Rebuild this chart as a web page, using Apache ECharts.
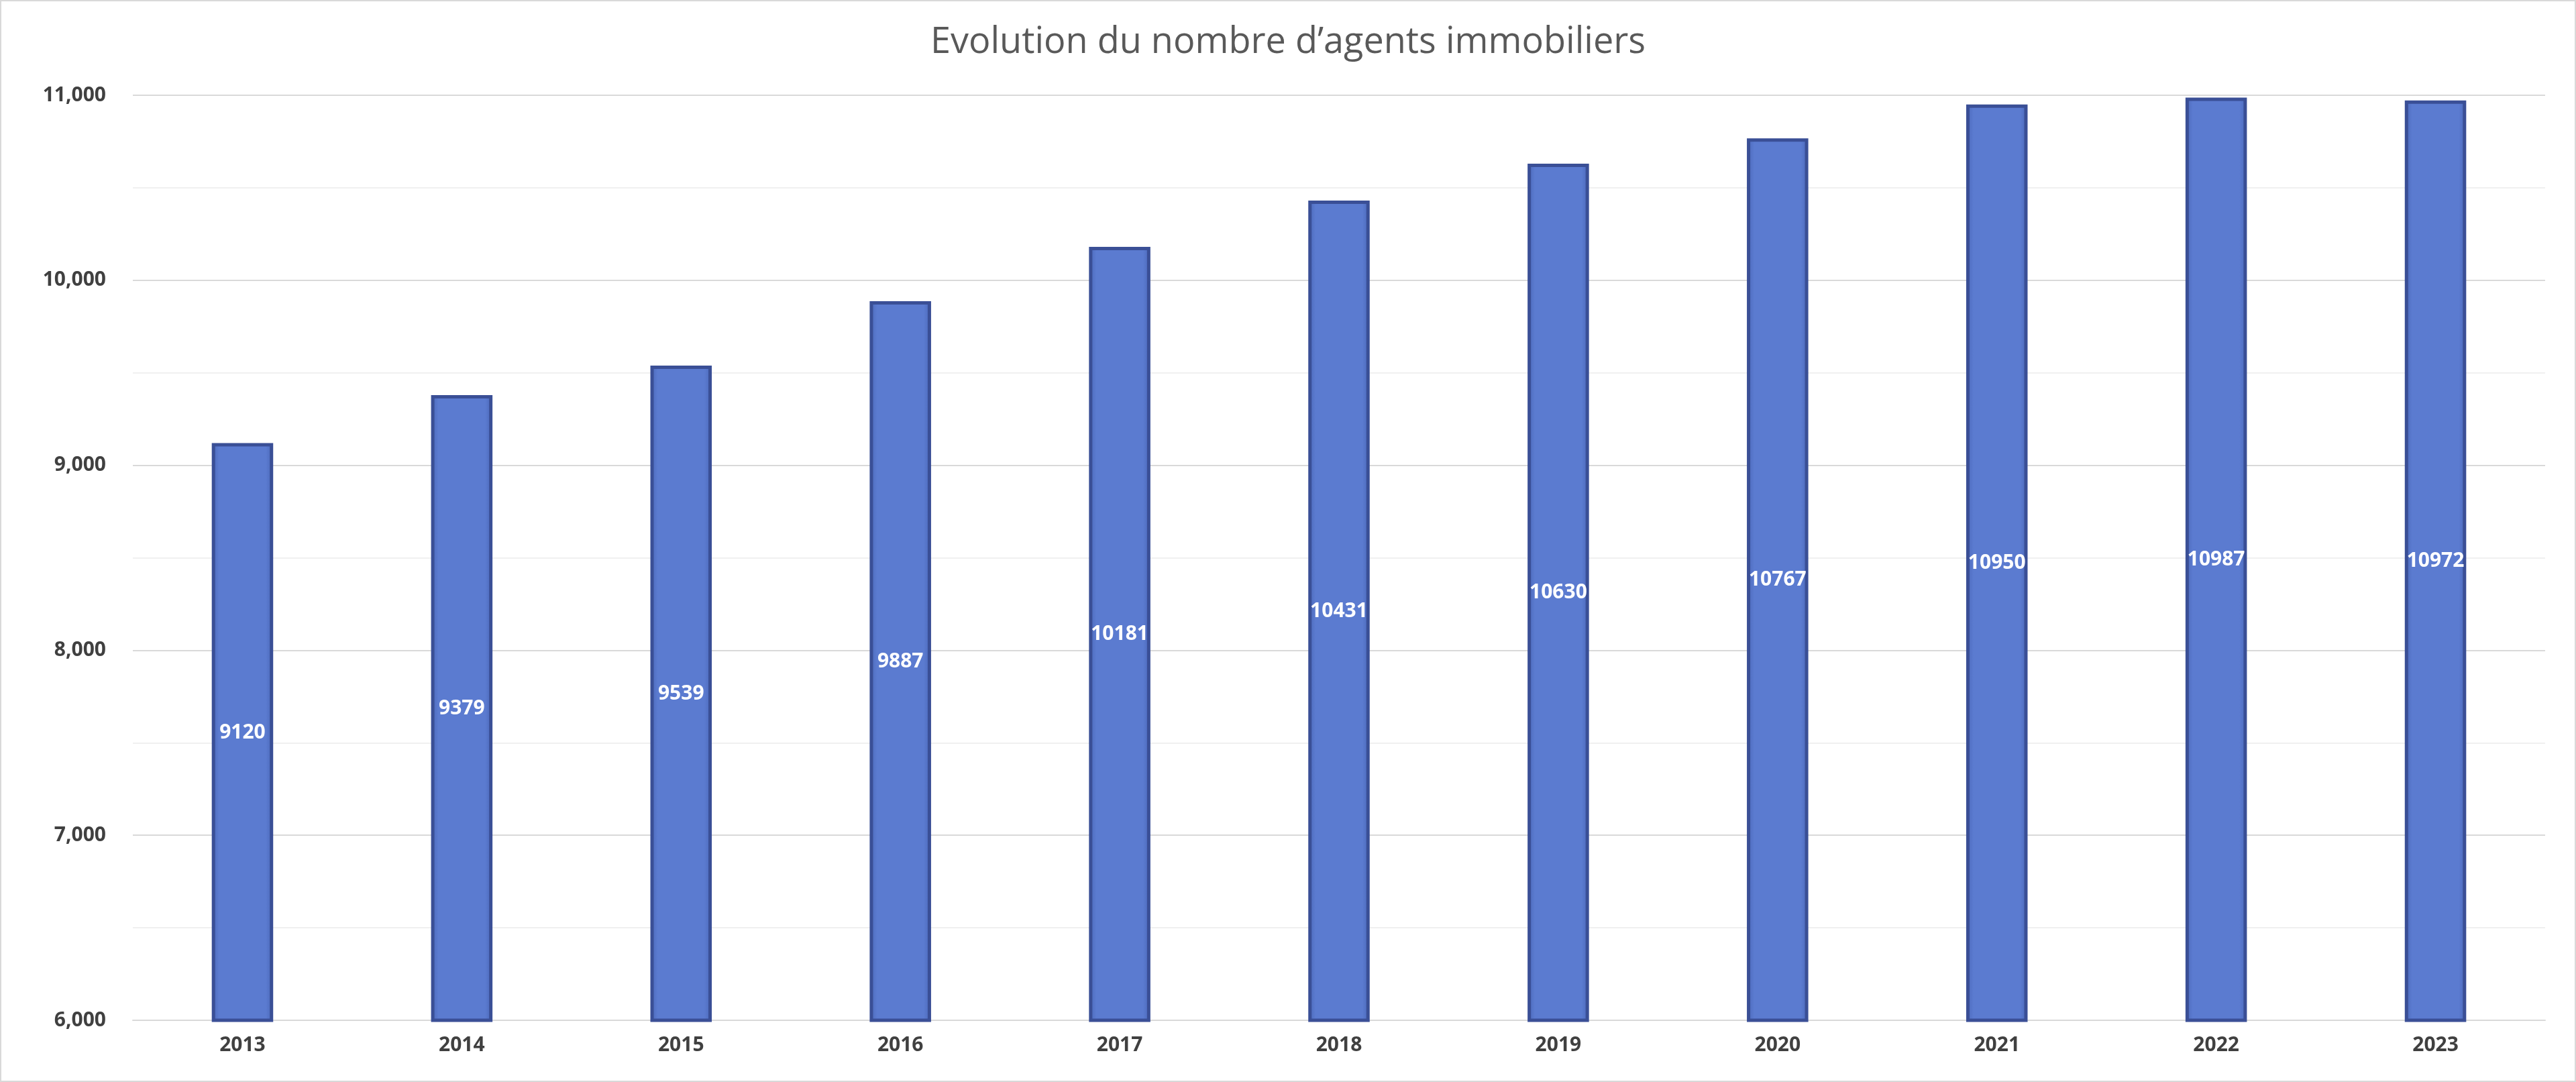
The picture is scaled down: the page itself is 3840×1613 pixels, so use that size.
<!DOCTYPE html>
<html><head><meta charset="utf-8">
<script src="https://cdn.jsdelivr.net/npm/echarts@6/dist/echarts.min.js"></script>
<style>html,body{margin:0;padding:0;background:#fff}#c{width:3840px;height:1613px;box-sizing:border-box;border:2px solid #d9d9d9}</style>
</head><body><div id="c"></div>
<script>
const categories=['2013','2014','2015','2016','2017','2018','2019','2020','2021','2022','2023'];
const values=[9120,9379,9539,9887,10181,10431,10630,10767,10950,10987,10972];
const chart=echarts.init(document.getElementById('c'));
chart.setOption({
  title:{text:"Evolution du nombre d’agents immobiliers",left:'center',top:30,textStyle:{fontFamily:'Open Sans',fontSize:54,fontWeight:'normal',color:'#595959'}},
  grid:{left:196,right:44,top:140,bottom:90},
  xAxis:{type:'category',data:categories,axisTick:{show:false},axisLine:{lineStyle:{color:'#d9d9d9',width:2}},
    axisLabel:{fontFamily:'Open Sans',fontWeight:'bold',fontSize:30,color:'#404040',margin:22}},
  yAxis:{type:'value',min:6000,max:11000,interval:1000,axisLine:{show:false},axisTick:{show:false},
    axisLabel:{fontFamily:'Open Sans',fontWeight:'bold',fontSize:30,color:'#404040',margin:40},
    splitLine:{lineStyle:{color:'#d9d9d9',width:2}},
    minorTick:{show:false,splitNumber:2},minorSplitLine:{show:true,lineStyle:{color:'#f0f0f0',width:2}}},
  series:[{type:'bar',data:values,barWidth:'28%',
    itemStyle:{borderColor:'#3a4f96',borderWidth:5,
      color:new echarts.graphic.LinearGradient(0,0,1,0,[{offset:0,color:'#4a67b8'},{offset:0.12,color:'#5b7bd0'},{offset:0.88,color:'#5b7bd0'},{offset:1,color:'#4a67b8'}])},
    label:{show:true,position:'inside',color:'#fff',fontFamily:'Open Sans',fontWeight:'bold',fontSize:30}}]
});
</script></body></html>
